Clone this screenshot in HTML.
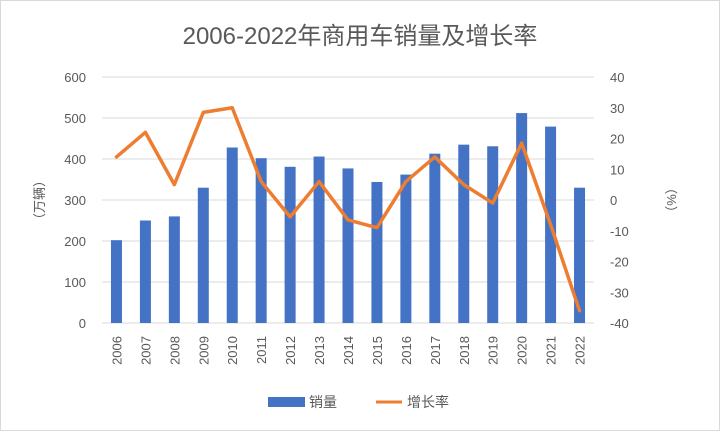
<!DOCTYPE html>
<html><head><meta charset="utf-8"><style>
body{margin:0;background:#fff;}
svg{display:block;font-family:"Liberation Sans","Noto Sans CJK SC",sans-serif;}
</style></head><body>
<svg id="c" width="720" height="431">
<rect x="0.5" y="0.5" width="719" height="430" fill="#fff" stroke="#d9d9d9"/>
<text x="360" y="44" text-anchor="middle" font-size="24" fill="#595959">2006-2022年商用车销量及增长率</text>
<text transform="translate(44,200) rotate(-90)" text-anchor="middle" font-size="13" fill="#595959">（万辆）</text>
<text transform="translate(676,200) rotate(-90)" text-anchor="middle" font-size="13" fill="#595959">（%）</text>
<g id="grid"></g><g id="bars"></g><g id="line"></g><g id="labels"></g>
<rect x="268" y="397" width="37" height="10" fill="#4472c4"/>
<text x="309" y="407" font-size="14" fill="#595959">销量</text>
<line x1="376" y1="402" x2="402" y2="402" stroke="#ed7d31" stroke-width="3"/>
<text x="407" y="407" font-size="14" fill="#595959">增长率</text>
</svg>
<script>
const years=["2006","2007","2008","2009","2010","2011","2012","2013","2014","2015","2016","2017","2018","2019","2020","2021","2022"];
const sales=[202,250,260,330,428,402,381,406,377,344,362,413,435,431,512,479,330];
const growth=[14,22,5,28.5,30,6,-5.5,6,-6.5,-9,6,14,5,-1,18.5,-8,-36];
const leftTicks=[0,100,200,300,400,500,600];
const rightTicks=[-40,-30,-20,-10,0,10,20,30,40];
const NS="http://www.w3.org/2000/svg";
const X0=102,X1=594,Y0=323,Y1=77;
const bw=(X1-X0)/years.length;
const xc=i=>X0+bw*(i+0.5);
const yL=v=>Y0-(v/600)*(Y0-Y1);
const yR=v=>Y0-((v+40)/80)*(Y0-Y1);
function mk(t,a,p){const e=document.createElementNS(NS,t);for(const k in a)e.setAttribute(k,a[k]);p.appendChild(e);return e;}
const g=document.getElementById('grid'),b=document.getElementById('bars'),l=document.getElementById('line'),lb=document.getElementById('labels');
leftTicks.forEach(v=>{
const ln=mk('line',{x1:X0,x2:X1,y1:yL(v),y2:yL(v),stroke:'#d9d9d9','stroke-width':1},g);


const t=mk('text',{x:86,y:yL(v)+5,'text-anchor':'end','font-size':13,fill:'#595959'},lb);
t.textContent=v;


});
rightTicks.forEach(v=>{
const t=mk('text',{x:610,y:yR(v)+5,'font-size':13,fill:'#595959'},lb);
t.textContent=v;


});
years.forEach((y,i)=>{
const r=mk('rect',{x:xc(i)-5.5,y:yL(sales[i]),width:11,height:Y0-yL(sales[i]),fill:'#4472c4'},b);


const t=mk('text',{transform:`translate(${xc(i)+5},${336}) rotate(-90)`,'text-anchor':'end','font-size':13,fill:'#595959'},lb);
t.textContent=y;


});
const p=mk('polyline',{points:growth.map((v,i)=>xc(i)+','+yR(v)).join(' '),fill:'none',stroke:'#ed7d31','stroke-width':3.5,'stroke-linejoin':'round','stroke-linecap':'round'},l);


</script>
</body></html>
